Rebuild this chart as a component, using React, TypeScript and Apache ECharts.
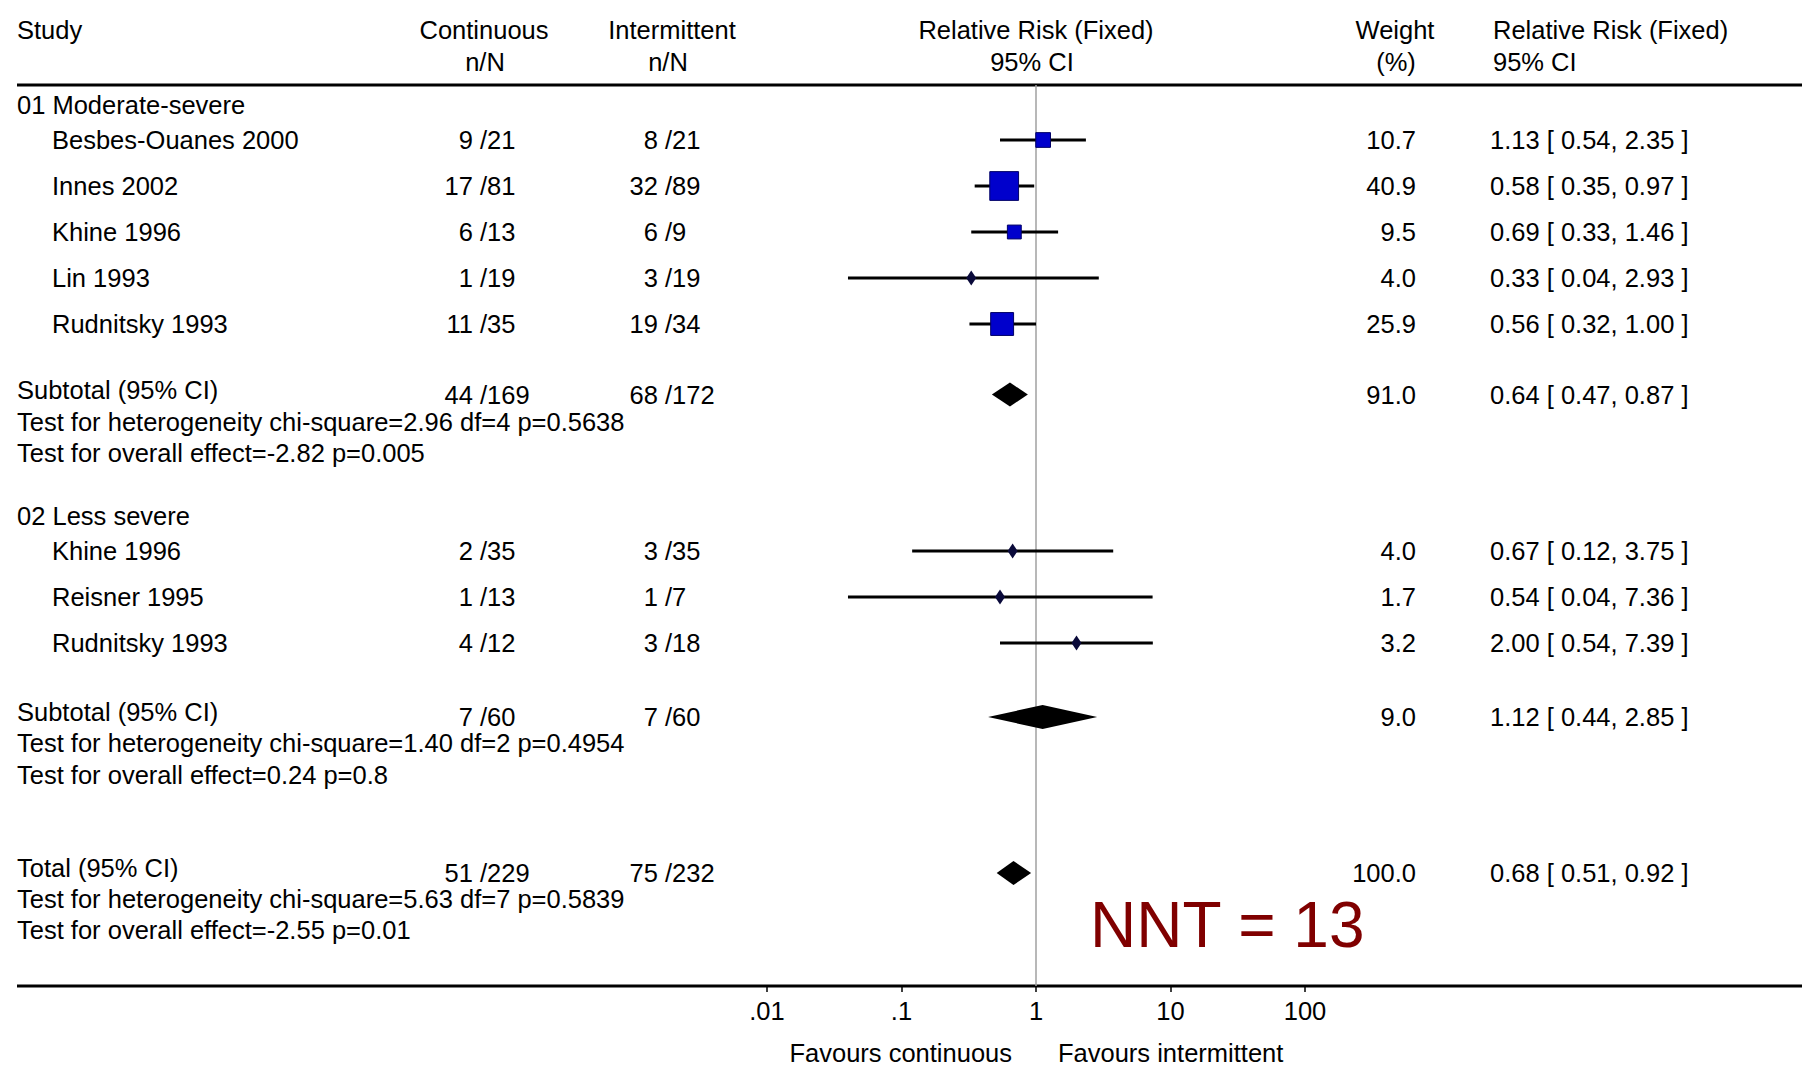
import React, { useEffect, useRef } from "react";
import * as echarts from "echarts";

// ---------------- DATA ----------------
const GROUP_TITLES = ["01 Moderate-severe", "02 Less severe"];

const G1_STUDIES = ["Besbes-Ouanes 2000", "Innes 2002", "Khine 1996", "Lin 1993", "Rudnitsky 1993"];
const G1_CONT_EVENTS = [9, 17, 6, 1, 11];
const G1_CONT_TOTAL = [21, 81, 13, 19, 35];
const G1_INT_EVENTS = [8, 32, 6, 3, 19];
const G1_INT_TOTAL = [21, 89, 9, 19, 34];
const G1_WEIGHT = [10.7, 40.9, 9.5, 4.0, 25.9];
const G1_RR = [1.13, 0.58, 0.69, 0.33, 0.56];
const G1_LOW = [0.54, 0.35, 0.33, 0.04, 0.32];
const G1_HIGH = [2.35, 0.97, 1.46, 2.93, 1.0];

const G2_STUDIES = ["Khine 1996", "Reisner 1995", "Rudnitsky 1993"];
const G2_CONT_EVENTS = [2, 1, 4];
const G2_CONT_TOTAL = [35, 13, 12];
const G2_INT_EVENTS = [3, 1, 3];
const G2_INT_TOTAL = [35, 7, 18];
const G2_WEIGHT = [4.0, 1.7, 3.2];
const G2_RR = [0.67, 0.54, 2.0];
const G2_LOW = [0.12, 0.04, 0.54];
const G2_HIGH = [3.75, 7.36, 7.39];

const SUM_LABELS = ["Subtotal (95% CI)", "Subtotal (95% CI)", "Total (95% CI)"];
const SUM_CONT_EVENTS = [44, 7, 51];
const SUM_CONT_TOTAL = [169, 60, 229];
const SUM_INT_EVENTS = [68, 7, 75];
const SUM_INT_TOTAL = [172, 60, 232];
const SUM_WEIGHT = [91.0, 9.0, 100.0];
const SUM_RR = [0.64, 1.12, 0.68];
const SUM_LOW = [0.47, 0.44, 0.51];
const SUM_HIGH = [0.87, 2.85, 0.92];
const HET_TEXT = [
  "Test for heterogeneity chi-square=2.96 df=4 p=0.5638",
  "Test for heterogeneity chi-square=1.40 df=2 p=0.4954",
  "Test for heterogeneity chi-square=5.63 df=7 p=0.5839",
];
const OVERALL_TEXT = [
  "Test for overall effect=-2.82 p=0.005",
  "Test for overall effect=0.24 p=0.8",
  "Test for overall effect=-2.55 p=0.01",
];

const TICK_VALUES = [0.01, 0.1, 1, 10, 100];
const TICK_LABELS = [".01", ".1", "1", "10", "100"];
const NNT_TEXT = "NNT = 13";
const FAVOURS_LEFT = "Favours continuous";
const FAVOURS_RIGHT = "Favours intermittent";

// ---------------- LAYOUT ----------------
const FONT = "'Liberation Sans', Arial, Helvetica, sans-serif";
const FS = 25.5;
const TOP_LINE_Y = 85;
const BOTTOM_Y = 986;
const G1_ROW_Y = [140, 186, 232, 278, 324];
const G2_ROW_Y = [551, 597, 643];
const GROUP_TITLE_Y = [105, 516];
const SUM_Y = [394.5, 717, 873];
const SUM_LABEL_DY = -5;
const HET_Y = [422, 743, 899];
const OVERALL_Y = [453, 775, 930];

const LEFT_X = 17;
const NAME_X = 52;
const CONT_SPLIT_X = 480;
const INT_SPLIT_X = 665;
const WEIGHT_RIGHT_X = 1416;
const CI_LEFT_X = 1490;

let measureCtx: CanvasRenderingContext2D | null = null;
function textWidth(t: string): number {
  if (!measureCtx) {
    const c = document.createElement("canvas");
    measureCtx = c.getContext("2d");
  }
  if (!measureCtx) return t.length * FS * 0.5;
  measureCtx.font = `${FS}px ${FONT}`;
  return measureCtx.measureText(t).width;
}

type Row = {
  kind: "study" | "summary" | "title" | "note";
  y: number;
  label: string;
  ce?: number; ct?: number; ie?: number; it?: number;
  w?: number; rr?: number; lo?: number; hi?: number;
};

function buildRows(): Row[] {
  const rows: Row[] = [];
  const groups = [
    { names: G1_STUDIES, ce: G1_CONT_EVENTS, ct: G1_CONT_TOTAL, ie: G1_INT_EVENTS, it: G1_INT_TOTAL, w: G1_WEIGHT, rr: G1_RR, lo: G1_LOW, hi: G1_HIGH, ys: G1_ROW_Y },
    { names: G2_STUDIES, ce: G2_CONT_EVENTS, ct: G2_CONT_TOTAL, ie: G2_INT_EVENTS, it: G2_INT_TOTAL, w: G2_WEIGHT, rr: G2_RR, lo: G2_LOW, hi: G2_HIGH, ys: G2_ROW_Y },
  ];
  groups.forEach((g, gi) => {
    rows.push({ kind: "title", y: GROUP_TITLE_Y[gi], label: GROUP_TITLES[gi] });
    g.names.forEach((n, i) => {
      rows.push({ kind: "study", y: g.ys[i], label: n, ce: g.ce[i], ct: g.ct[i], ie: g.ie[i], it: g.it[i], w: g.w[i], rr: g.rr[i], lo: g.lo[i], hi: g.hi[i] });
    });
  });
  SUM_LABELS.forEach((l, i) => {
    rows.push({ kind: "summary", y: SUM_Y[i], label: l, ce: SUM_CONT_EVENTS[i], ct: SUM_CONT_TOTAL[i], ie: SUM_INT_EVENTS[i], it: SUM_INT_TOTAL[i], w: SUM_WEIGHT[i], rr: SUM_RR[i], lo: SUM_LOW[i], hi: SUM_HIGH[i] });
    rows.push({ kind: "note", y: HET_Y[i], label: HET_TEXT[i] });
    rows.push({ kind: "note", y: OVERALL_Y[i], label: OVERALL_TEXT[i] });
  });
  return rows;
}

function txt(text: string, x: number, y: number, align: string, extra: any = {}) {
  return {
    type: "text",
    x,
    y,
    silent: true,
    style: {
      text,
      fill: "#000",
      fontSize: FS,
      fontFamily: FONT,
      textAlign: align,
      textVerticalAlign: "middle",
      ...extra,
    },
  };
}

export default function App() {
  const ref = useRef<HTMLDivElement>(null);
  useEffect(() => {
    if (!ref.current) return;
    const chart = echarts.init(ref.current, null, { renderer: "svg" });
    const rows = buildRows();
    const markerRows = rows.filter((r) => r.kind === "study" || r.kind === "summary");

    const option: any = {
      animation: false,
      backgroundColor: "#fff",
      grid: { left: 767, width: 538, top: 0, height: BOTTOM_Y },
      xAxis: {
        type: "log",
        logBase: 10,
        position: "bottom",
        min: TICK_VALUES[0],
        max: TICK_VALUES[TICK_VALUES.length - 1],
        axisLine: { show: false, onZero: false },
        axisTick: { show: true, length: 6, lineStyle: { color: "#000", width: 1.5 } },
        splitLine: { show: false },
        axisLabel: {
          color: "#000",
          fontSize: FS,
          fontFamily: FONT,
          margin: 12,
          formatter: (v: number) => {
            const e = Math.round(Math.log10(v));
            const idx = TICK_VALUES.findIndex((t) => Math.round(Math.log10(t)) === e);
            return idx >= 0 ? TICK_LABELS[idx] : "";
          },
        },
      },
      yAxis: { type: "value", min: 0, max: BOTTOM_Y, inverse: true, show: false },
      series: [
        {
          type: "custom",
          name: "ref",
          z: 1,
          clip: false,
          silent: true,
          data: [[1, TOP_LINE_Y, BOTTOM_Y]],
          renderItem: (params: any, api: any) => {
            const p1 = api.coord([api.value(0), api.value(1)]);
            const p2 = api.coord([api.value(0), api.value(2)]);
            return {
              type: "line",
              shape: { x1: p1[0], y1: p1[1], x2: p2[0], y2: p2[1] },
              style: { stroke: "#a0a0a0", lineWidth: 1.5 },
            };
          },
        },
        {
          type: "custom",
          name: "forest",
          z: 3,
          clip: false,
          silent: true,
          data: markerRows.map((r) => [r.rr, r.y, r.lo, r.hi, r.w]),
          renderItem: (params: any, api: any) => {
            const r = markerRows[params.dataIndex];
            const [xc, y] = api.coord([r.rr, r.y]);
            const xl = api.coord([r.lo, r.y])[0];
            const xh = api.coord([r.hi, r.y])[0];
            if (r.kind === "summary") {
              const h = 24;
              return {
                type: "polygon",
                shape: { points: [[xl, y], [xc, y - h / 2], [xh, y], [xc, y + h / 2]] },
                style: { fill: "#000" },
              };
            }
            const children: any[] = [
              { type: "line", shape: { x1: xl, y1: y, x2: xh, y2: y }, style: { stroke: "#000", lineWidth: 2.8 } },
            ];
            const w = r.w || 0;
            if (w >= 5) {
              const s = 4.5 * Math.sqrt(w);
              children.push({
                type: "rect",
                shape: { x: xc - s / 2, y: y - s / 2, width: s, height: s },
                style: { fill: "#0000cc", stroke: "#000066", lineWidth: 1 },
              });
            } else {
              children.push({
                type: "polygon",
                shape: { points: [[xc - 5, y], [xc, y - 7.5], [xc + 5, y], [xc, y + 7.5]] },
                style: { fill: "#0a0a3a" },
              });
            }
            return { type: "group", children };
          },
        },
        {
          type: "custom",
          name: "table",
          z: 4,
          clip: false,
          silent: true,
          data: rows.map((r) => [1, r.y]),
          renderItem: (params: any, api: any) => {
            const r = rows[params.dataIndex];
            const y = api.coord([1, r.y])[1];
            const children: any[] = [];
            if (r.kind === "title" || r.kind === "note") {
              children.push(txt(r.label, LEFT_X, y, "left"));
            } else {
              if (r.kind === "study") children.push(txt(r.label, NAME_X, y, "left"));
              else children.push(txt(r.label, LEFT_X, y + SUM_LABEL_DY, "left"));
              const c = `${r.ce} /${r.ct}`;
              const i = `${r.ie} /${r.it}`;
              children.push(txt(c, CONT_SPLIT_X - textWidth(`${r.ce} `), y, "left"));
              children.push(txt(i, INT_SPLIT_X - textWidth(`${r.ie} `), y, "left"));
              children.push(txt((r.w as number).toFixed(1), WEIGHT_RIGHT_X, y, "right"));
              const ci = `${(r.rr as number).toFixed(2)} [ ${(r.lo as number).toFixed(2)}, ${(r.hi as number).toFixed(2)} ]`;
              children.push(txt(ci, CI_LEFT_X, y, "left"));
            }
            return { type: "group", children };
          },
        },
      ],
      graphic: [
        txt("Study", LEFT_X, 30, "left"),
        txt("Continuous", 484, 30, "center"),
        txt("n/N", 485, 62, "center"),
        txt("Intermittent", 672, 30, "center"),
        txt("n/N", 668, 62, "center"),
        txt("Relative Risk (Fixed)", 1036, 30, "center"),
        txt("95% CI", 1032, 62, "center"),
        txt("Weight", 1395, 30, "center"),
        txt("(%)", 1396, 62, "center"),
        txt("Relative Risk (Fixed)", 1493, 30, "left"),
        txt("95% CI", 1493, 62, "left"),
        {
          type: "line",
          silent: true,
          shape: { x1: LEFT_X, y1: TOP_LINE_Y, x2: 1802, y2: TOP_LINE_Y },
          style: { stroke: "#000", lineWidth: 3 },
        },
        {
          type: "line",
          silent: true,
          shape: { x1: LEFT_X, y1: BOTTOM_Y, x2: 1802, y2: BOTTOM_Y },
          style: { stroke: "#000", lineWidth: 3 },
        },
        txt(FAVOURS_LEFT, 1012, 1053, "right"),
        txt(FAVOURS_RIGHT, 1058, 1053, "left"),
        txt(NNT_TEXT, 1090, 925, "left", { fontSize: 64, fill: "#800000" }),
      ],
    };
    chart.setOption(option);
    return () => chart.dispose();
  }, []);
  return (
    <div
      ref={ref}
      style={{ position: "absolute", left: 0, top: 0, width: 1802, height: 1068, background: "#fff" }}
    />
  );
}
